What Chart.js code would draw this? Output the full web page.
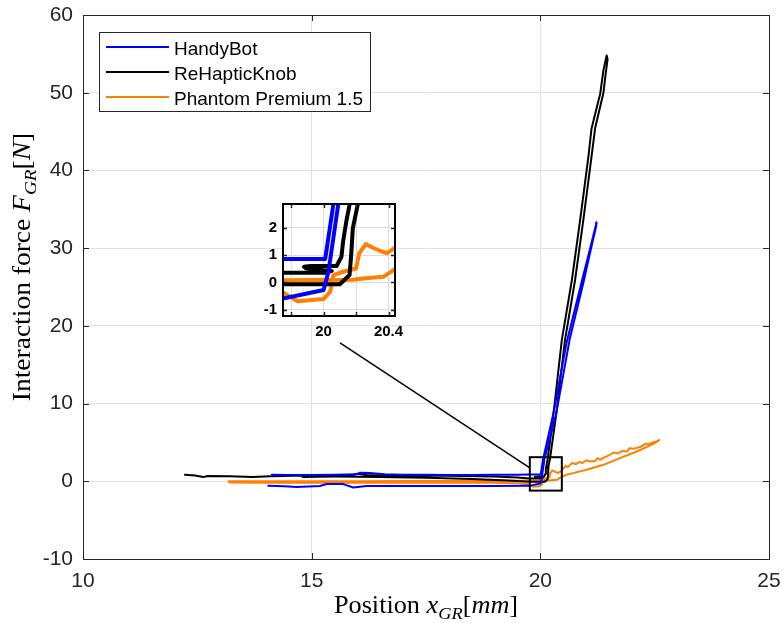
<!DOCTYPE html>
<html><head><meta charset="utf-8">
<script src="https://cdn.jsdelivr.net/npm/chart.js@4/dist/chart.umd.min.js"></script>
<style>
html,body{margin:0;padding:0;background:#fff;}
#wrap{position:relative;width:784px;height:623px;}
#main{position:absolute;left:0;top:0;}
#inset{position:absolute;left:240px;top:190px;}
</style></head><body>
<div id="wrap">
<canvas id="main" width="784" height="623"></canvas>
<canvas id="inset" width="170" height="160"></canvas>
</div>
<script>
// ---------- data ----------
const seriesLabels = ['HandyBot', 'ReHapticKnob', 'Phantom Premium 1.5'];
const seriesColors = ['#0000ff', '#000000', '#ff8000'];

const handyX = [14.13,14.5,15.0,15.5,15.99,16.05,16.27,16.6,17.0,17.5,18.0,18.5,19.0,19.5,19.75,20.01,20.06,20.28,20.58,20.94,21.1,21.23,
  21.22,21.08,20.94,20.64,20.34,20.09,20.03,20.0,19.75,19.0,18.0,17.0,16.5,16.2,15.91,15.69,15.33,15.18,14.67,14.4,14.05];
const handyY = [0.84,0.82,0.8,0.84,0.9,1.09,1.06,0.92,0.85,0.85,0.8,0.82,0.85,0.85,0.86,0.86,2.84,8.6,18.0,26.5,30.2,33.3,
  32.8,29.2,25.5,18.2,8.5,2.84,0.39,-0.28,-0.59,-0.62,-0.6,-0.6,-0.62,-0.6,-0.8,-0.36,-0.36,-0.6,-0.75,-0.65,-0.58];

const knobX = [12.23,12.45,12.63,12.72,13.2,13.72,14.09,14.6,15.2,15.9,16.0,16.2,17.0,18.0,19.0,19.5,19.75,20.01,20.05,19.95,19.89,19.88,19.92,20.08,20.11,20.12,20.14,20.16,
  20.28,20.47,20.69,20.87,21.05,21.12,21.31,21.38,21.45,21.47,21.43,
  21.38,21.2,21.12,20.94,20.76,20.54,20.34,20.21,20.18,20.17,20.16,20.10,19.75,19.3,18.5,17.5,16.5,15.5,14.8];
const knobY = [0.84,0.74,0.54,0.69,0.64,0.54,0.65,0.7,0.74,0.8,0.96,0.82,0.75,0.7,0.6,0.5,0.35,0.35,0.42,0.47,0.52,0.57,0.6,0.6,0.94,1.49,2.23,2.84,
  8.3,18.2,25.9,33.6,41.7,45.4,49.9,52.9,54.8,54.3,52.5,
  50.0,45.5,41.8,33.6,25.9,18.2,8.3,2.84,1.98,1.0,0.27,-0.07,-0.07,0.1,0.3,0.45,0.55,0.6,0.55];

const phantomX = [13.18,14.0,15.0,16.0,17.0,18.0,19.0,19.75,20.18,20.29,20.37,20.43,20.55,20.72,21.01,21.38,21.74,22.11,22.47,22.6,
  22.55,22.47,22.35,22.3,22.18,22.05,21.95,21.89,21.8,21.7,21.6,21.52,21.45,21.38,21.31,21.25,21.2,21.09,21.0,20.92,20.85,20.78,20.7,20.65,20.6,20.55,20.5,20.44,
  20.39,20.35,20.31,20.26,20.22,20.2,20.12,20.06,20.04,20.0,19.84,19.75,19.5,19.0,18.0,17.0,16.0,15.0,14.0,13.2];
const phantomY = [0.02,0.0,0.02,0.0,0.03,0.04,0.06,0.08,0.1,0.17,0.21,0.45,0.8,1.05,1.48,2.12,2.98,3.83,4.82,5.3,
  5.15,4.99,4.75,4.85,4.4,4.2,4.25,3.83,3.9,3.6,3.7,3.4,3.2,3.0,2.76,3.0,2.6,2.55,2.7,2.35,2.5,2.2,2.35,2.12,1.8,2.0,1.6,1.27,
  1.07,1.15,1.25,1.40,1.07,0.51,0.39,0.27,-0.35,-0.61,-0.69,-0.37,-0.25,-0.2,-0.18,-0.2,-0.2,-0.18,-0.2,-0.15];

const mainXTicks = [10, 15, 20, 25];
const mainYTicks = [-10, 0, 10, 20, 30, 40, 50, 60];
const mainXRange = [10, 25];
const mainYRange = [-10, 60];

const insetXRange = [19.75, 20.44];
const insetYRange = [-1.23, 2.87];
const insetXTicks = [19.8, 20, 20.2, 20.4];
const insetXLabels = ['', '20', '', '20.4'];
const insetYTicks = [-1, 0, 1, 2];
const insetYLabels = ['-1', '0', '1', '2'];

// annotation: zoom rectangle [x0, x1, y0, y1] and connector [[x,y],[x,y]] in main data coords
const zoomBox = [19.77, 20.47, -1.2, 3.1];
const connector = [[15.62, 17.8], [19.77, 1.74]];

const xTitleParts = [{t:'Position ', it:false},{t:'x', it:true},{t:'GR', it:true, sub:true},{t:'[', it:false},{t:'mm', it:true},{t:']', it:false}];
const yTitleParts = [{t:'Interaction force ', it:false},{t:'F', it:true},{t:'GR', it:true, sub:true},{t:'[', it:false},{t:'N', it:true},{t:']', it:false}];

// ---------- helpers ----------
function pts(xs, ys) { return xs.map((x, i) => ({x: x, y: ys[i]})); }
const allX = [handyX, knobX, phantomX];
const allY = [handyY, knobY, phantomY];
function makeDatasets(width) {
  return seriesLabels.map((lab, i) => ({
    label: lab, data: pts(allX[i], allY[i]), showLine: true,
    borderColor: seriesColors[i], backgroundColor: seriesColors[i],
    borderWidth: width, pointRadius: 0, tension: 0, borderJoinStyle: 'round', borderCapStyle: 'round'
  }));
}
function fixedTicks(values) { return axis => { axis.ticks = values.map(v => ({value: v})); }; }
function noPad(s) { s.paddingTop = 0; s.paddingBottom = 0; s.paddingLeft = 0; s.paddingRight = 0; }

function drawRich(ctx, parts, size, cx, cy, angle, stretch) {
  ctx.save();
  ctx.translate(cx, cy); ctx.rotate(angle); ctx.scale(stretch, 1);
  const m = []; let total = 0;
  for (const p of parts) {
    const s = p.sub ? size * 0.7 : size;
    ctx.font = (p.it ? 'italic ' : '') + s + 'px "Liberation Serif"';
    const w = ctx.measureText(p.t).width;
    m.push({p, s, w}); total += w;
  }
  let x = -total / 2;
  ctx.fillStyle = '#000'; ctx.textBaseline = 'alphabetic'; ctx.textAlign = 'left';
  for (const q of m) {
    ctx.font = (q.p.it ? 'italic ' : '') + q.s + 'px "Liberation Serif"';
    ctx.fillText(q.p.t, x, q.p.sub ? size * 0.22 : 0);
    x += q.w;
  }
  ctx.restore();
}

function innerTicks(ctx, chart, xt, yt, len, color, width) {
  const a = chart.chartArea, xs = chart.scales.x, ys = chart.scales.y;
  ctx.save(); ctx.strokeStyle = color; ctx.lineWidth = width; ctx.beginPath();
  for (const v of xt) { const px = Math.round(xs.getPixelForValue(v)) + 0.5;
    ctx.moveTo(px, a.bottom); ctx.lineTo(px, a.bottom - len); ctx.moveTo(px, a.top); ctx.lineTo(px, a.top + len); }
  for (const v of yt) { const py = Math.round(ys.getPixelForValue(v)) + 0.5;
    ctx.moveTo(a.left, py); ctx.lineTo(a.left + len, py); ctx.moveTo(a.right, py); ctx.lineTo(a.right - len, py); }
  ctx.stroke(); ctx.restore();
}

// ---------- main chart ----------
const mainPlugin = {
  id: 'mainDeco',
  afterDatasetsDraw(chart) {
    const ctx = chart.ctx, a = chart.chartArea, xs = chart.scales.x, ys = chart.scales.y;
    ctx.save(); ctx.strokeStyle = '#262626'; ctx.lineWidth = 1;
    ctx.strokeRect(Math.round(a.left) + 0.5, Math.round(a.top) + 0.5, Math.round(a.right - a.left), Math.round(a.bottom - a.top));
    ctx.restore();
    innerTicks(ctx, chart, mainXTicks, mainYTicks, 6, '#262626', 1);
    ctx.save(); ctx.strokeStyle = '#000'; ctx.lineWidth = 2;
    const x0 = xs.getPixelForValue(zoomBox[0]), x1 = xs.getPixelForValue(zoomBox[1]);
    const y0 = ys.getPixelForValue(zoomBox[2]), y1 = ys.getPixelForValue(zoomBox[3]);
    ctx.strokeRect(x0, y1, x1 - x0, y0 - y1);
    ctx.lineWidth = 1.5; ctx.beginPath();
    ctx.moveTo(xs.getPixelForValue(connector[0][0]), ys.getPixelForValue(connector[0][1]));
    ctx.lineTo(xs.getPixelForValue(connector[1][0]), ys.getPixelForValue(connector[1][1]));
    ctx.stroke(); ctx.restore();
  },
  afterDraw(chart) {
    const ctx = chart.ctx;
    ctx.save();
    ctx.fillStyle = '#fff'; ctx.fillRect(99.5, 32.5, 271, 79);
    ctx.strokeStyle = '#262626'; ctx.lineWidth = 1; ctx.strokeRect(99.5, 32.5, 271, 79);
    seriesLabels.forEach((lab, i) => {
      const yl = 47 + i * 25;
      ctx.strokeStyle = seriesColors[i]; ctx.lineWidth = 2;
      ctx.beginPath(); ctx.moveTo(106, yl); ctx.lineTo(169, yl); ctx.stroke();
      ctx.fillStyle = '#000'; ctx.font = '19px "Liberation Sans"'; ctx.textBaseline = 'alphabetic';
      ctx.fillText(lab, 174, yl + 8);
    });
    ctx.restore();
    const a = chart.chartArea;
    drawRich(ctx, xTitleParts, 25, (a.left + a.right) / 2, 613, 0, 1.05);
    drawRich(ctx, yTitleParts, 25, 30, 267, -Math.PI / 2, 1.1);
  }
};

new Chart(document.getElementById('main'), {
  type: 'scatter',
  data: { datasets: makeDatasets(2) },
  options: {
    responsive: false, animation: false, devicePixelRatio: 1,
    layout: { padding: { left: 0, top: 15, right: 15, bottom: 0 } },
    plugins: { legend: { display: false }, tooltip: { enabled: false } },
    scales: {
      x: {
        type: 'linear', min: mainXRange[0], max: mainXRange[1],
        afterBuildTicks: fixedTicks(mainXTicks),
        afterFit: s => { s.height = 64; noPad(s); },
        grid: { color: '#e3e3e3', lineWidth: 1, drawTicks: false },
        border: { display: true, color: '#262626' },
        ticks: { padding: 10, color: '#262626', font: { family: 'Liberation Sans', size: 21 }, maxRotation: 0, callback: v => String(v) }
      },
      y: {
        type: 'linear', min: mainYRange[0], max: mainYRange[1],
        afterBuildTicks: fixedTicks(mainYTicks),
        afterFit: s => { s.width = 83; noPad(s); },
        grid: { color: '#e3e3e3', lineWidth: 1, drawTicks: false },
        border: { display: true, color: '#262626' },
        ticks: { padding: 10, color: '#262626', font: { family: 'Liberation Sans', size: 21 }, callback: v => String(v) }
      }
    }
  },
  plugins: [mainPlugin]
});

// ---------- inset chart ----------
const insetPlugin = {
  id: 'insetDeco',
  beforeDraw(chart) {
    const a = chart.chartArea, ctx = chart.ctx;
    ctx.save(); ctx.fillStyle = '#fff'; ctx.fillRect(a.left, a.top, a.right - a.left, a.bottom - a.top); ctx.restore();
  },
  afterDraw(chart) {
    const a = chart.chartArea, ctx = chart.ctx;
    innerTicks(ctx, chart, insetXTicks, insetYTicks, 4, '#262626', 1.5);
    ctx.save(); ctx.strokeStyle = '#000'; ctx.lineWidth = 2;
    ctx.strokeRect(a.left, a.top, a.right - a.left, a.bottom - a.top);
    ctx.restore();
  }
};

new Chart(document.getElementById('inset'), {
  type: 'scatter',
  data: { datasets: makeDatasets(4) },
  options: {
    responsive: false, animation: false, devicePixelRatio: 1,
    layout: { padding: { left: 0, top: 14, right: 15, bottom: 0 } },
    plugins: { legend: { display: false }, tooltip: { enabled: false } },
    scales: {
      x: {
        type: 'linear', min: insetXRange[0], max: insetXRange[1],
        afterBuildTicks: fixedTicks(insetXTicks),
        afterFit: s => { s.height = 34; noPad(s); },
        grid: { color: '#dcdcdc', lineWidth: 1, drawTicks: false },
        border: { display: false },
        ticks: { padding: 7, color: '#000', font: { family: 'Liberation Sans', size: 15, weight: 'bold' }, maxRotation: 0, autoSkip: false,
          callback: (v, i) => insetXLabels[i] }
      },
      y: {
        type: 'linear', min: insetYRange[0], max: insetYRange[1],
        afterBuildTicks: fixedTicks(insetYTicks),
        afterFit: s => { s.width = 43; noPad(s); },
        grid: { color: '#dcdcdc', lineWidth: 1, drawTicks: false },
        border: { display: false },
        ticks: { padding: 6, color: '#000', font: { family: 'Liberation Sans', size: 15, weight: 'bold' }, autoSkip: false,
          callback: (v, i) => insetYLabels[i] }
      }
    }
  },
  plugins: [insetPlugin]
});
</script>
</body></html>
